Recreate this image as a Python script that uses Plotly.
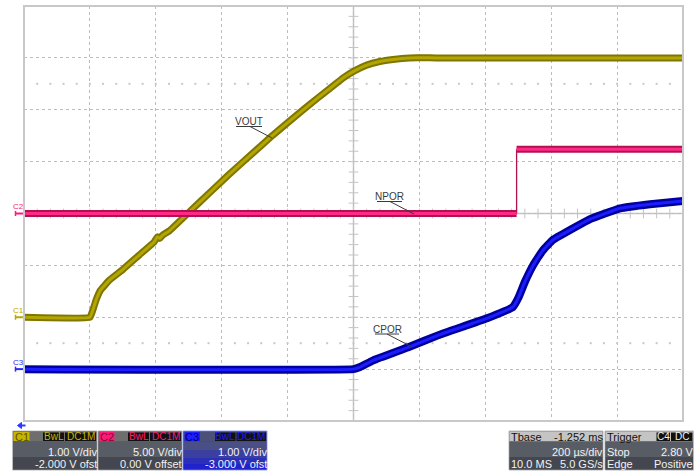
import numpy as np
import plotly.graph_objects as go

# ---------------- data (read from the scope screen) ----------------
# time in microseconds from the left edge of the screen (200 us/div, 10 div)
t_vout = [0, 200, 208, 218, 232, 260, 300, 350, 395, 405, 412, 420, 440, 500, 560, 620,
          690, 750, 800, 840, 890, 930, 970, 1000, 1040, 1080, 1120, 1170, 1250, 2000]
v_vout = [0, 0, 0.12, 0.32, 0.52, 0.72, 0.92, 1.2, 1.45, 1.55, 1.52, 1.58, 1.66, 2.02, 2.38, 2.74,
          3.14, 3.48, 3.75, 3.96, 4.22, 4.42, 4.62, 4.74, 4.86, 4.93, 4.97, 5.0, 5.0, 5.0]

t_npor = [0, 1495, 1495, 2000]
v_npor = [0, 0, 6.2, 6.2]

t_cpor = [0, 1000, 1020, 1060, 1170, 1260, 1405, 1484, 1500, 1520, 1545, 1575, 1605, 1657,
          1718, 1809, 1900, 2000]
v_cpor = [0, 0, 0.04, 0.17, 0.43, 0.66, 0.98, 1.2, 1.37, 1.68, 2.0, 2.29, 2.49, 2.68,
          2.89, 3.1, 3.18, 3.24]

# channel settings: (name, V/div, offset)
ch_names = ["C1", "C2", "C3"]
ch_vdiv = [1.0, 5.0, 1.0]
ch_offset = [-2.0, 0.0, -3.0]
ch_labels = ["VOUT", "NPOR", "CPOR"]
ch_info_vdiv = ["1.00 V/div", "5.00 V/div", "1.00 V/div"]
ch_info_ofs = ["-2.000 V ofst", "0.00 V offset", "-3.000 V ofst"]
tbase_text = ["Tbase", "-1.252 ms", "200 µs/div", "10.0 MS", "5.0 GS/s"]
trig_text = ["Trigger", "C4", "DC", "Stop", "2.80 V", "Edge", "Positive"]

N_XDIV, N_YDIV = 10, 8
T_DIV = 200.0

# ---------------- geometry ----------------
W, H = 696, 471
L, R, T, B = 24, 683, 6, 421


def px(x):
    return (x - L) / (R - L)


def py(y):
    return (B - y) / (B - T)


fig = go.Figure()

# channel y ranges (screen center = -offset)
ranges = []
for vd, of in zip(ch_vdiv, ch_offset):
    c = -of
    ranges.append([c - vd * N_YDIV / 2, c + vd * N_YDIV / 2])

# --- center axis ticks and dotted marks ---
tick_t = np.arange(0, N_XDIV * T_DIV + 1, T_DIV / 5)
tick_d = np.arange(-N_YDIV / 2, N_YDIV / 2 + 0.001, 0.2)
fig.add_trace(go.Scatter(x=tick_t, y=[0] * len(tick_t), mode="markers", yaxis="y",
                         marker=dict(symbol="line-ns", size=7, line=dict(color="#c4c4c4", width=1)),
                         hoverinfo="skip", showlegend=False))
fig.add_trace(go.Scatter(x=[N_XDIV * T_DIV / 2] * len(tick_d), y=tick_d, mode="markers", yaxis="y",
                         marker=dict(symbol="line-ew", size=7, line=dict(color="#c4c4c4", width=1)),
                         hoverinfo="skip", showlegend=False))
for yy in (2.5, -2.5):
    fig.add_trace(go.Scatter(x=tick_t, y=[yy] * len(tick_t), mode="markers", yaxis="y",
                             marker=dict(symbol="square", size=2, color="#c8c8c8"),
                             hoverinfo="skip", showlegend=False))

# --- waveforms ---
styles = {
    "C1": ("#7f7600", "#b3a600"),
    "C2": ("#b0124f", "#ff2a86"),
    "C3": ("#00009c", "#1c1cff"),
}


def band(x, y, axis, name, w_out=7, w_in=3, shape="linear"):
    dark, light = styles[name]
    fig.add_trace(go.Scatter(x=x, y=y, yaxis=axis, mode="lines",
                             line=dict(color=dark, width=w_out, shape=shape, smoothing=0.3),
                             hoverinfo="skip", showlegend=False))
    fig.add_trace(go.Scatter(x=x, y=y, yaxis=axis, mode="lines",
                             line=dict(color=light, width=w_in, shape=shape, smoothing=0.3),
                             hoverinfo="skip", showlegend=False))


# NPOR: thick levels, thin edge
npx = [t_npor[0], t_npor[1], None, t_npor[2], t_npor[3]]
npy = [v_npor[0], v_npor[1], None, v_npor[2], v_npor[3]]
fig.add_trace(go.Scatter(x=[t_npor[1], t_npor[2]], y=[v_npor[1], v_npor[2]], yaxis="y3", mode="lines",
                         line=dict(color="#b0124f", width=1.3), hoverinfo="skip", showlegend=False))
band(npx, npy, "y3", "C2")
band(t_vout, v_vout, "y2", "C1", shape="spline")
band(t_cpor, v_cpor, "y4", "C3", w_out=8, shape="spline")

shapes = []
annotations = []

# border
shapes.append(dict(type="rect", xref="paper", yref="paper", x0=0, x1=1, y0=0, y1=1,
                   line=dict(color="#c8c8c8", width=2), layer="above"))
# center lines
shapes.append(dict(type="line", xref="x", yref="y", x0=0, x1=N_XDIV * T_DIV, y0=0, y1=0,
                   line=dict(color="#c4c4c4", width=1.5), layer="below"))
shapes.append(dict(type="line", xref="x", yref="y", x0=N_XDIV * T_DIV / 2, x1=N_XDIV * T_DIV / 2,
                   y0=-N_YDIV / 2, y1=N_YDIV / 2, line=dict(color="#c4c4c4", width=1.5), layer="below"))

# channel level markers on the left
ch_colors = ["#b8a800", "#ff1a7a", "#2a2aff"]
for i, name in enumerate(ch_names):
    lvl_div = (0 + ch_offset[i]) / ch_vdiv[i]
    ypix = 213.5 - lvl_div * (B - T) / N_YDIV
    shapes.append(dict(type="line", xref="paper", yref="paper", x0=px(15), x1=px(23), y0=py(ypix), y1=py(ypix),
                       line=dict(color=ch_colors[i], width=2)))
    shapes.append(dict(type="line", xref="paper", yref="paper", x0=px(15.5), x1=px(15.5), y0=py(ypix - 2.5),
                       y1=py(ypix + 2.5), line=dict(color=ch_colors[i], width=1.5)))
    annotations.append(dict(x=px(18), y=py(ypix - 7), xref="paper", yref="paper", text=name,
                            showarrow=False, font=dict(family="Liberation Sans", size=8, color=ch_colors[i]),
                            xanchor="center", yanchor="middle"))

# trace labels with leaders
lab_geo = [  # text center, underline x0,x1,y, leader end
    (249, 121.5, 236, 262, 126.5, 250, 272, 138),
    (389.5, 196, 377, 402, 201.5, 390, 414, 214),
    (387, 329, 375, 399, 334, 387, 412, 347),
]
for lab, g in zip(ch_labels, lab_geo):
    cx, cy, u0, u1, uy, lx0, lx1, ly1 = g
    annotations.append(dict(x=px(cx), y=py(cy), xref="paper", yref="paper", text=lab, showarrow=False,
                            font=dict(family="Liberation Sans", size=10, color="#3a3a3a"),
                            xanchor="center", yanchor="middle"))
    shapes.append(dict(type="line", xref="paper", yref="paper", x0=px(u0), x1=px(u1), y0=py(uy), y1=py(uy),
                       line=dict(color="#3a3a3a", width=1)))
    shapes.append(dict(type="line", xref="paper", yref="paper", x0=px(lx0), x1=px(lx1), y0=py(uy), y1=py(ly1),
                       line=dict(color="#3a3a3a", width=1)))

# trigger position arrow
shapes.append(dict(type="path", xref="paper", yref="paper",
                   path="M {} {} L {} {} L {} {} Z".format(px(17.5), py(425.5), px(21.5), py(422.5), px(21.5), py(428.5)),
                   fillcolor="#2a3aff", line=dict(color="#2a3aff", width=1)))
shapes.append(dict(type="line", xref="paper", yref="paper", x0=px(20), x1=px(25.5), y0=py(425.5), y1=py(425.5),
                   line=dict(color="#2a3aff", width=2)))


def rect(x0, y0, x1, y1, fill, lc=None, lw=0):
    shapes.append(dict(type="rect", xref="paper", yref="paper", x0=px(x0), x1=px(x1), y0=py(y1), y1=py(y0),
                       fillcolor=fill, line=dict(color=lc if lc else fill, width=lw), layer="above"))


def txt(x, y, s, color, anchor="right", size=11):
    annotations.append(dict(x=px(x), y=py(y), xref="paper", yref="paper", text=s, showarrow=False,
                            font=dict(family="Liberation Sans", size=size, color=color),
                            xanchor=anchor, yanchor="middle", xshift=0))


# channel info boxes
boxes = [(12.5, 97), (98, 182), (183, 267)]
lab_boxes = [(13.5, 29.5), (99, 114.5), (184.5, 200)]
bwl_boxes = [(43, 64), (128, 149), (215, 235.5)]
dc_boxes = [(65, 96), (150, 181), (236.5, 266)]
lab_fill = ["#c8b400", "#ff1a7a", "#1e1eff"]
lab_txt = ["#5c5200", "#7a0836", "#00006a"]
for i in range(3):
    x0, x1 = boxes[i]
    if i < 2:
        rect(x0, 431, x1, 470, "#4e525a", "#bcbcbc", 1)
        rect(x0 + 0.5, 431.5, x1 - 0.5, 441.5, "#6e6e6e")
        rect(x0 + 0.5, 441.5, x1 - 0.5, 457, "#585c64")
        rect(x0 + 0.5, 457, x1 - 0.5, 469.5, "#44474f")
    else:
        rect(x0, 431, x1, 470, "#3a3f8a", "#9aa6ff", 1)
        rect(x0 + 0.5, 431.5, x1 - 0.5, 441.5, "#4a5078")
        rect(x0 + 0.5, 441.5, x1 - 0.5, 450, "#4a4f86")
        rect(x0 + 0.5, 450, x1 - 0.5, 458, "#3a3fa0")
        rect(x0 + 0.5, 458, x1 - 0.5, 464, "#2c30b8")
        rect(x0 + 0.5, 464, x1 - 0.5, 469.5, "#2022cc")
    a, b = lab_boxes[i]
    rect(a, 432, b, 441, lab_fill[i])
    txt((a + b) / 2, 436.5, ch_names[i], lab_txt[i], "center", 11)
    a, b = bwl_boxes[i]
    rect(a, 432.5, b, 441, "#111111")
    txt((a + b) / 2, 436.8, "BwL", lab_fill[i], "center", 10)
    a, b = dc_boxes[i]
    rect(a, 432.5, b, 441, "#111111")
    txt((a + b) / 2, 436.8, "DC1M", lab_fill[i], "center", 10)
    txt(x1 + 1.5, 451.8, ch_info_vdiv[i], "#f2f2f2")
    txt(x1 + 1.5, 463.8, ch_info_ofs[i], "#f2f2f2")

# timebase box
rect(509, 431, 603, 470, "#4e525a", "#bcbcbc", 1)
rect(509.5, 431.5, 602.5, 441.5, "#c4c4c4")
rect(509.5, 441.5, 602.5, 457, "#585c64")
rect(509.5, 457, 602.5, 469.5, "#44474f")
txt(508.5, 436.8, tbase_text[0], "#111111", "left")
txt(604.5, 436.8, tbase_text[1], "#111111", "right")
txt(604.5, 451.8, tbase_text[2], "#f2f2f2", "right")
txt(508.5, 463.8, tbase_text[3], "#f2f2f2", "left")
txt(604.5, 463.8, tbase_text[4], "#f2f2f2", "right")

# trigger box
rect(605, 431, 693.5, 470, "#4e525a", "#bcbcbc", 1)
rect(605.5, 431.5, 693, 441.5, "#c4c4c4")
rect(605.5, 441.5, 693, 457, "#585c64")
rect(605.5, 457, 693, 469.5, "#44474f")
txt(604.5, 436.8, trig_text[0], "#111111", "left")
rect(656.5, 432.5, 670, 441, "#111111")
txt(663.3, 436.8, trig_text[1], "#f2f2f2", "center", 10)
rect(671, 432.5, 692.5, 441, "#111111")
txt(681.8, 436.8, trig_text[2], "#f2f2f2", "center", 10)
txt(604.5, 451.8, trig_text[3], "#f2f2f2", "left")
txt(695, 451.8, trig_text[4], "#f2f2f2", "right")
txt(604.5, 463.8, trig_text[5], "#f2f2f2", "left")
txt(695, 463.8, trig_text[6], "#f2f2f2", "right")

grid_common = dict(showgrid=True, gridcolor="#bdbdbd", griddash="dot", gridwidth=1,
                   showticklabels=False, ticks="", zeroline=False, showline=False, fixedrange=True)

fig.update_layout(
    width=W, height=H, autosize=False,
    margin=dict(l=L, r=W - R, t=T, b=H - B, pad=0),
    paper_bgcolor="white", plot_bgcolor="white",
    showlegend=False,
    xaxis=dict(range=[0, N_XDIV * T_DIV], dtick=T_DIV, tick0=0, **grid_common),
    yaxis=dict(range=[-N_YDIV / 2, N_YDIV / 2], dtick=1, tick0=0, **grid_common),
    yaxis2=dict(range=ranges[0], overlaying="y", visible=False, fixedrange=True),
    yaxis3=dict(range=ranges[1], overlaying="y", visible=False, fixedrange=True),
    yaxis4=dict(range=ranges[2], overlaying="y", visible=False, fixedrange=True),
    shapes=shapes,
    annotations=annotations,
)

fig.write_html("out.html", config={"displayModeBar": False},
               post_script="document.body.style.margin='0px';document.body.style.overflow='hidden';")
